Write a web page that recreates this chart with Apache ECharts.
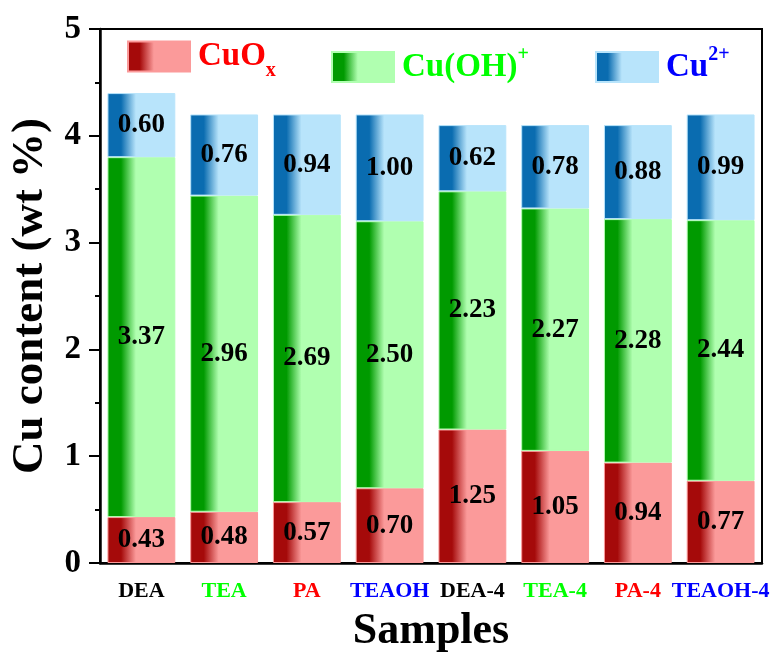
<!DOCTYPE html>
<html><head><meta charset="utf-8">
<script src="https://cdn.jsdelivr.net/npm/echarts@6/dist/echarts.min.js"></script>
<style>html,body{margin:0;padding:0;background:#fff}#c{width:777px;height:652px}</style>
</head><body><div id="c"></div>
<script>
var categories = ['DEA','TEA','PA','TEAOH','DEA-4','TEA-4','PA-4','TEAOH-4'];
var labelColors = ['#000000','#00ff00','#ff0000','#0000ff','#000000','#00ff00','#ff0000','#0000ff'];
var cuox = [0.43,0.48,0.57,0.70,1.25,1.05,0.94,0.77];
var cuoh = [3.37,2.96,2.69,2.50,2.23,2.27,2.28,2.44];
var cu2  = [0.60,0.76,0.94,1.00,0.62,0.78,0.88,0.99];
var yTicks = [0,1,2,3,4,5];

var FONT = 'Liberation Serif, Times New Roman, serif';
function grad(dark, light){
  return new echarts.graphic.LinearGradient(0,0,1,0,[
    {offset:0,color:dark},{offset:0.2,color:dark},{offset:0.42,color:light},{offset:1,color:light}]);
}
var styles = [
  {name:'CuOx', data:cuox, dark:'#a50a0a', light:'#fb9a9a', text:'#ff0000'},
  {name:'Cu(OH)+', data:cuoh, dark:'#009a00', light:'#b0ffb0', text:'#00ff00'},
  {name:'Cu2+', data:cu2, dark:'#0a6cb0', light:'#b8e4fb', text:'#0000ff'}
];
var chart = echarts.init(document.getElementById('c'));
var rich = {
  a:{fontFamily:FONT,fontWeight:'bold',fontSize:33,lineHeight:36},
  sub:{fontFamily:FONT,fontWeight:'bold',fontSize:20,lineHeight:20,verticalAlign:'bottom',padding:[0,0,-6,0]},
  sup:{fontFamily:FONT,fontWeight:'bold',fontSize:20,lineHeight:20,verticalAlign:'top',padding:[-4,0,0,0]}
};
function legend(name, left, top, color, fmt){
  var r = JSON.parse(JSON.stringify(rich));
  r.a.color = color; r.sub.color = color; r.sup.color = color;
  return {data:[name], left:left, top:top, padding:0, icon:'rect', itemWidth:62, itemHeight:30, orient:'horizontal',
    formatter:function(){return fmt;}, textStyle:{color:color, fontSize:33, padding:[0,0,0,3], rich:r}};
}
chart.setOption({
  animation:false,
  grid:{left:100,right:15,top:29,bottom:89,show:true,borderColor:'#000',borderWidth:2,
    containLabel:false,outerBoundsMode:'none'},
  legend:[
    legend('CuOx',127,40,'#ff0000','{a|CuO}{sub|x}'),
    legend('Cu(OH)+',331,45,'#00ff00','{a|Cu(OH)}{sup|+}'),
    legend('Cu2+',595,45,'#0000ff','{a|Cu}{sup|2+}')
  ],
  xAxis:{type:'category',data:categories,
    axisLine:{lineStyle:{color:'#000',width:2.5}},
    axisTick:{alignWithLabel:true,length:10,lineStyle:{width:2,color:'#000'}},
    axisLabel:{fontFamily:FONT,fontWeight:'bold',fontSize:22,margin:17,interval:0,hideOverlap:false,
      color:function(v,i){return labelColors[categories.indexOf(v)];}},
    name:'Samples',nameLocation:'middle',nameGap:47,
    nameTextStyle:{fontFamily:FONT,fontWeight:'bold',fontSize:44,color:'#000'}},
  yAxis:{type:'value',min:yTicks[0],max:yTicks[yTicks.length-1],interval:1,
    axisLine:{show:true,lineStyle:{color:'#000',width:2.5}},
    axisTick:{show:true,length:11,lineStyle:{width:2,color:'#000'}},
    minorTick:{show:true,splitNumber:2,length:5,lineStyle:{width:2,color:'#000'}},
    splitLine:{show:false},
    axisLabel:{fontFamily:FONT,fontWeight:'bold',fontSize:33,color:'#000',margin:19},
    name:'Cu content (wt %)',nameLocation:'middle',nameGap:47,
    nameTextStyle:{fontFamily:FONT,fontWeight:'bold',fontSize:45,color:'#000'}},
  series: styles.map(function(s){
    return {name:s.name,type:'bar',stack:'t',data:s.data,barWidth:'82%',
      itemStyle:{color:grad(s.dark,s.light),borderColor:s.light,borderWidth:1},
      label:{show:true,position:'inside',fontFamily:FONT,fontWeight:'bold',fontSize:27,color:'#000',
        formatter:function(p){return p.value.toFixed(2);}}};
  })
});
</script></body></html>
